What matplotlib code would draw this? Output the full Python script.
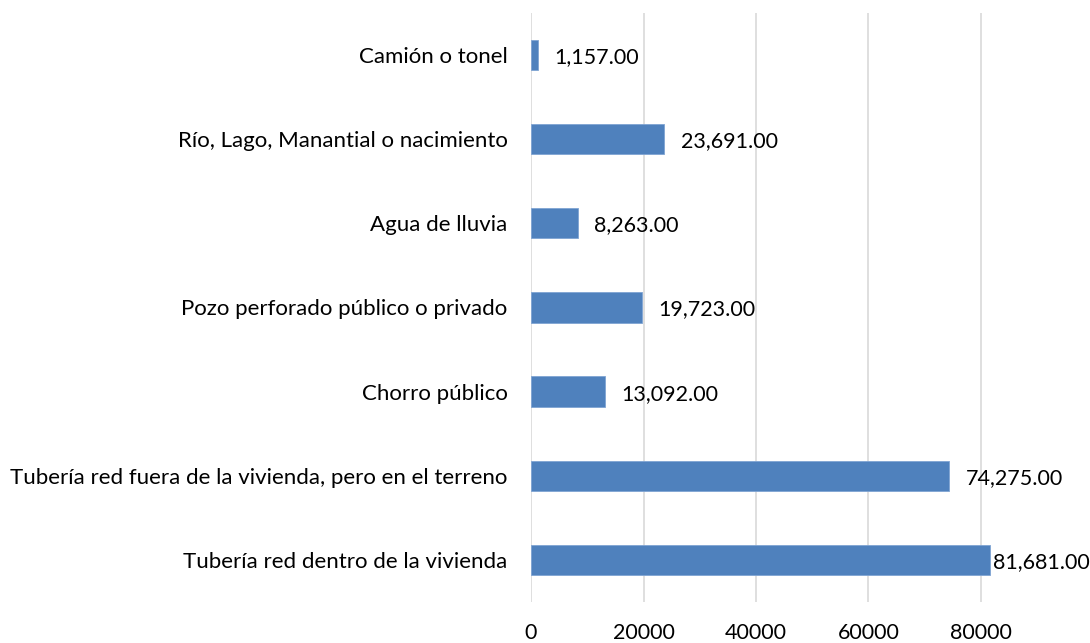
import matplotlib
matplotlib.use("Agg")
import matplotlib.pyplot as plt

# water source categories, listed bottom to top
categorias = [
    "Tubería red dentro de la vivienda",
    "Tubería red fuera de la vivienda, pero en el terreno",
    "Chorro público",
    "Pozo perforado público o privado",
    "Agua de lluvia",
    "Río, Lago, Manantial o nacimiento",
    "Camión o tonel",
]
hogares = [81681, 74275, 13092, 19723, 8263, 23691, 1157]
ticks_x = [0, 20000, 40000, 60000, 80000]

plt.rcParams['font.family'] = ['Lato', 'DejaVu Sans']

fig = plt.figure(figsize=(10.9, 6.43), dpi=100)
ax = fig.add_axes([0.4872, 0.0638, 0.5128, 0.916])

y = range(len(categorias))
bars = ax.barh(y, hogares, height=0.36, color='#4F81BD', edgecolor='#7FA4D3', linewidth=0.6, zorder=3)

etiquetas = []
for b, v in zip(bars, hogares):
    t = ax.annotate(f"{v:,.2f}", (b.get_width(), b.get_y() + b.get_height() / 2),
                    xytext=(12, -1.5), textcoords='offset points', va='center', ha='left',
                    fontsize=15.5, color='#000000')
    etiquetas.append(t)

ax.set_xlim(0, 99400)
ax.set_ylim(-0.5, len(categorias) - 0.5)
ax.set_yticks(list(y))
ax.set_yticklabels(categorias, fontsize=16)
ax.set_xticks(ticks_x)
ax.set_xticklabels([str(t) for t in ticks_x], fontsize=15.5)
ax.tick_params(axis='y', length=0, pad=17)
ax.tick_params(axis='x', length=0, pad=15)
ax.grid(axis='x', color='#D9D9D9', linewidth=1.2, zorder=0)
for s in ax.spines.values():
    s.set_visible(False)
ax.set_facecolor('none')

# pull labels back inside when they would run off the right edge
fig.canvas.draw()
r = fig.canvas.get_renderer()
ancho = fig.bbox.width
for t in etiquetas:
    bb = t.get_window_extent(r)
    if bb.x1 > ancho - 2:
        dx = (bb.x1 - (ancho - 2)) * 72 / fig.dpi
        ox, oy = t.xyann
        t.xyann = (max(ox - dx, 2), oy)

fig.savefig("out.png", dpi=100)
